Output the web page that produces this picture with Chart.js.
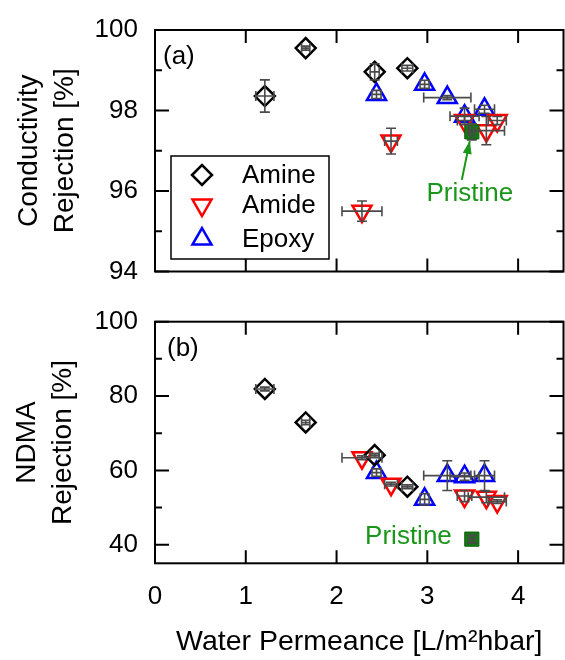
<!DOCTYPE html>
<html>
<head>
<meta charset="utf-8">
<script src="https://cdn.jsdelivr.net/npm/chart.js@4.4.1/dist/chart.umd.min.js"></script>
<style>
  html, body { margin: 0; padding: 0; background: #fff; overflow: hidden; }
  #wrap { position: relative; width: 565px; height: 660px; overflow: hidden; }
  canvas { position: absolute; left: 0; display: block; }
  #condChart { top: 0; }
  #ndmaChart { top: 300px; }
</style>
</head>
<body>
<div id="wrap">
  <canvas id="condChart" width="565" height="300"></canvas>
  <canvas id="ndmaChart" width="565" height="360"></canvas>
</div>
<script>
// Water permeance (shared by both panels) with error
const amineX = [1.21, 1.66, 2.42, 2.78];
const amineXErr = [0.10, 0.045, 0.05, 0.06];
const amideX = [2.28, 2.60, 3.41, 3.65, 3.77];
const amideXErr = [0.22, 0.07, 0.08, 0.20, 0.10];
const epoxyX = [2.44, 2.97, 3.22, 3.41, 3.63];
const epoxyXErr = [0.05, 0.05, 0.26, 0.16, 0.11];
const pristineX = [3.49];
const pristineXErr = [0.03];

// (a) Conductivity rejection [%]
const amineCond = [98.36, 99.55, 98.96, 99.05];
const amineCondErr = [0.40, 0.05, 0.20, 0.07];
const amideCond = [95.50, 97.24, 97.75, 97.50, 97.75];
const amideCondErr = [0.25, 0.32, 0.10, 0.35, 0.10];
const epoxyCond = [98.40, 98.65, 98.32, 97.86, 98.03];
const epoxyCondErr = [0.10, 0.10, 0.05, 0.20, 0.10];
const pristineCond = [97.47];
const pristineCondErr = [0.20];

// (b) NDMA rejection [%]
const amineNdma = [81.9, 72.9, 64.1, 55.6];
const amineNdmaErr = [0.5, 0.6, 0.5, 0.5];
const amideNdma = [63.4, 56.3, 53.1, 52.8, 51.6];
const amideNdmaErr = [0.5, 0.5, 1.5, 1.5, 0.5];
const epoxyNdma = [59.4, 52.2, 58.6, 58.3, 58.6];
const epoxyNdmaErr = [1.0, 1.5, 4.0, 1.0, 4.0];
const pristineNdma = [41.5];
const pristineNdmaErr = [1.0];

// Ticks
const xTickValues = [0, 1, 2, 3, 4];
const condTickValues = [94, 96, 98, 100];
const condMinorTicks = [95, 97, 99];
const ndmaTickValues = [40, 60, 80, 100];
const ndmaMinorTicks = [50, 70, 90];

const FONT = "'Liberation Sans', Arial, Helvetica, sans-serif";
const GREEN_TEXT = '#1a961a';

//Build scatter points from two arrays
function toPoints(xs, ys) {
  return xs.map((v, i) => ({ x: v, y: ys[i] }));
}

function makeDatasets(amineY, amineYErr, amideY, amideYErr, epoxyY, epoxyYErr, priY, priYErr) {
  const common = { showLine: false, pointBorderWidth: 2.5, pointBackgroundColor: 'rgba(0,0,0,0)' };
  return [
    { ...common, label: 'Pristine', order: 0, data: toPoints(pristineX, priY),
      errX: pristineXErr, errY: priYErr,
      pointStyle: 'rect', pointRadius: 10, pointBorderWidth: 1,
      pointBackgroundColor: '#137a13', pointBorderColor: '#0b5e0b' },
    { ...common, label: 'Amine', order: 1, data: toPoints(amineX, amineY),
      errX: amineXErr, errY: amineYErr,
      pointStyle: 'rectRot', pointRadius: 10, pointBorderColor: '#000' },
    { ...common, label: 'Amide', order: 2, data: toPoints(amideX, amideY),
      errX: amideXErr, errY: amideYErr,
      pointStyle: 'triangle', pointRotation: 180, pointRadius: 11, pointBorderColor: '#ff0000' },
    { ...common, label: 'Epoxy', order: 3, data: toPoints(epoxyX, epoxyY),
      errX: epoxyXErr, errY: epoxyYErr,
      pointStyle: 'triangle', pointRadius: 11, pointBorderColor: '#0000ff' }
  ];
}

//Frame with inward ticks
function framePlugin(major, minor) {
  return {
    id: 'frame',
    afterDraw(chart) {
      const { ctx, chartArea: a, scales: { x, y } } = chart;
      ctx.save();
      ctx.strokeStyle = '#000';
      ctx.lineWidth = 2;
      ctx.strokeRect(a.left, a.top, a.right - a.left, a.bottom - a.top);
      ctx.beginPath();
      xTickValues.forEach(v => {
        const px = x.getPixelForValue(v);
        ctx.moveTo(px, a.top); ctx.lineTo(px, a.top + 13);
        ctx.moveTo(px, a.bottom); ctx.lineTo(px, a.bottom - 13);
      });
      major.forEach(v => {
        const py = y.getPixelForValue(v);
        ctx.moveTo(a.left, py); ctx.lineTo(a.left + 14, py);
        ctx.moveTo(a.right, py); ctx.lineTo(a.right - 14, py);
      });
      minor.forEach(v => {
        const py = y.getPixelForValue(v);
        ctx.moveTo(a.left, py); ctx.lineTo(a.left + 7, py);
        ctx.moveTo(a.right, py); ctx.lineTo(a.right - 7, py);
      });
      ctx.stroke();
      ctx.restore();
    }
  };
}

//Error bars from dataset errX / errY
const errorBarPlugin = {
  id: 'errorBars',
  afterDatasetsDraw(chart) {
    const { ctx, scales: { x, y } } = chart;
    const cap = 5;
    ctx.save();
    ctx.strokeStyle = '#4a4a4a';
    ctx.lineWidth = 1.6;
    chart.data.datasets.forEach(ds => {
      ds.data.forEach((p, i) => {
        const cx = x.getPixelForValue(p.x);
        const cy = y.getPixelForValue(p.y);
        const ex = ds.errX ? ds.errX[i] : 0;
        const ey = ds.errY ? ds.errY[i] : 0;
        ctx.beginPath();
        if (ex > 0) {
          const x1 = x.getPixelForValue(p.x - ex);
          const x2 = x.getPixelForValue(p.x + ex);
          ctx.moveTo(x1, cy); ctx.lineTo(x2, cy);
          ctx.moveTo(x1, cy - cap); ctx.lineTo(x1, cy + cap);
          ctx.moveTo(x2, cy - cap); ctx.lineTo(x2, cy + cap);
        }
        if (ey > 0) {
          const y1 = y.getPixelForValue(p.y - ey);
          const y2 = y.getPixelForValue(p.y + ey);
          ctx.moveTo(cx, y1); ctx.lineTo(cx, y2);
          ctx.moveTo(cx - cap, y1); ctx.lineTo(cx + cap, y1);
          ctx.moveTo(cx - cap, y2); ctx.lineTo(cx + cap, y2);
        }
        ctx.stroke();
      });
    });
    ctx.restore();
  }
};

//Panel letter
function panelLabel(text, dx, dy) {
  return {
    id: 'panelLabel',
    afterDraw(chart) {
      const { ctx, chartArea: a } = chart;
      ctx.save();
      ctx.font = '26px ' + FONT;
      ctx.fillStyle = '#000';
      ctx.textAlign = 'left';
      ctx.textBaseline = 'middle';
      ctx.fillText(text, a.left + dx, a.top + dy);
      ctx.restore();
    }
  };
}

//Legend box inside panel (a)
const legendPlugin = {
  id: 'insideLegend',
  afterDraw(chart) {
    const { ctx } = chart;
    const box = { left: 171, top: 156, w: 158, h: 103 };
    ctx.save();
    ctx.fillStyle = '#fff';
    ctx.fillRect(box.left, box.top, box.w, box.h);
    ctx.strokeStyle = '#000';
    ctx.lineWidth = 1.5;
    ctx.strokeRect(box.left, box.top, box.w, box.h);
    const rows = [175, 205, 239];
    chart.data.datasets.slice(1).forEach((ds, i) => {
      ctx.strokeStyle = ds.pointBorderColor;
      ctx.fillStyle = 'rgba(0,0,0,0)';
      ctx.lineWidth = 2.5;
      Chart.helpers.drawPoint(ctx, {
        pointStyle: ds.pointStyle, radius: ds.pointRadius,
        rotation: ds.pointRotation || 0, borderWidth: 2.5
      }, 202, rows[i]);
      ctx.fillStyle = '#000';
      ctx.font = '26px ' + FONT;
      ctx.textAlign = 'left';
      ctx.textBaseline = 'middle';
      ctx.fillText(ds.label, 242, rows[i] + 1);
    });
    ctx.restore();
  }
};

//"Pristine" annotations
const pristineArrowPlugin = {
  id: 'pristineArrow',
  afterDraw(chart) {
    const { ctx, scales: { x, y } } = chart;
    const px = x.getPixelForValue(pristineX[0]);
    const py = y.getPixelForValue(pristineCond[0]);
    const tip = { x: px - 2, y: py + 9 };
    const tail = { x: px - 10, y: py + 48 };
    ctx.save();
    ctx.strokeStyle = GREEN_TEXT;
    ctx.fillStyle = GREEN_TEXT;
    ctx.lineWidth = 2;
    ctx.beginPath();
    ctx.moveTo(tail.x, tail.y); ctx.lineTo(tip.x, tip.y);
    ctx.stroke();
    const ang = Math.atan2(tip.y - tail.y, tip.x - tail.x);
    const len = 13, half = 4.5;
    const bx = tip.x - Math.cos(ang) * len, by = tip.y - Math.sin(ang) * len;
    ctx.beginPath();
    ctx.moveTo(tip.x, tip.y);
    ctx.lineTo(bx - Math.sin(ang) * half, by + Math.cos(ang) * half);
    ctx.lineTo(bx + Math.sin(ang) * half, by - Math.cos(ang) * half);
    ctx.closePath();
    ctx.fill();
    ctx.font = '26px ' + FONT;
    ctx.textAlign = 'center';
    ctx.textBaseline = 'middle';
    ctx.fillText('Pristine', px - 2, py + 62);
    ctx.restore();
  }
};

const pristineTextPlugin = {
  id: 'pristineText',
  afterDraw(chart) {
    const { ctx, scales: { x, y } } = chart;
    const px = x.getPixelForValue(pristineX[0]);
    const py = y.getPixelForValue(pristineNdma[0]);
    ctx.save();
    ctx.fillStyle = GREEN_TEXT;
    ctx.font = '26px ' + FONT;
    ctx.textAlign = 'right';
    ctx.textBaseline = 'middle';
    ctx.fillText('Pristine', px - 20, py - 2);
    ctx.restore();
  }
};

//Scale size is fixed so both panels share the same plot area
function fixSize(s, w, h) {
  if (w !== null) s.width = w;
  if (h !== null) s.height = h;
  s.paddingLeft = 0; s.paddingRight = 0; s.paddingTop = 0; s.paddingBottom = 0;
}

function yScale(min, max, ticksArr, title, titlePad) {
  return {
    type: 'linear', min: min, max: max,
    afterBuildTicks: s => { s.ticks = ticksArr.map(v => ({ value: v })); },
    afterFit: s => fixSize(s, 155, null),
    grid: { display: false, drawTicks: false },
    border: { display: false },
    ticks: { color: '#000', padding: 17, font: { family: FONT, size: 26 } },
    title: {
      display: true, text: title, color: '#000',
      padding: { top: titlePad, bottom: 0 },
      font: { family: FONT, size: 28, lineHeight: 1.3 }
    }
  };
}

function baseOptions(padding) {
  return {
    responsive: false,
    animation: false,
    devicePixelRatio: 1,
    layout: { padding: padding, autoPadding: false },
    plugins: { legend: { display: false }, tooltip: { enabled: false } }
  };
}

function createCondChart() {
  const opts = baseOptions({ left: 0, top: 30, right: 1.5, bottom: 28.5 });
  opts.scales = {
    x: { type: 'linear', min: 0, max: 4.5, display: false },
    y: yScale(94, 100, condTickValues, ['Conductivity', 'Rejection [%]'], 10.8)
  };
  return new Chart(document.getElementById('condChart').getContext('2d'), {
    type: 'scatter',
    data: { datasets: makeDatasets(amineCond, amineCondErr, amideCond, amideCondErr,
      epoxyCond, epoxyCondErr, pristineCond, pristineCondErr) },
    options: opts,
    plugins: [errorBarPlugin, framePlugin(condTickValues, condMinorTicks),
      panelLabel('(a)', 8, 27), legendPlugin, pristineArrowPlugin]
  });
}

function createNdmaChart() {
  const opts = baseOptions({ left: 0, top: 21.7, right: 1.5, bottom: 0 });
  opts.scales = {
    x: {
      type: 'linear', min: 0, max: 4.5,
      afterBuildTicks: s => { s.ticks = xTickValues.map(v => ({ value: v })); },
      afterFit: s => fixSize(s, null, 96.7),
      grid: { display: false, drawTicks: false },
      border: { display: false },
      ticks: { color: '#000', padding: 18, maxRotation: 0, font: { family: FONT, size: 26 } },
      title: {
        display: true, text: 'Water Permeance [L/m\u00B2hbar]', color: '#000',
        padding: { top: 0, bottom: 0.3 },
        font: { family: FONT, size: 28.5 }
      }
    },
    y: yScale(35, 100, ndmaTickValues, ['NDMA', 'Rejection [%]'], 9)
  };
  return new Chart(document.getElementById('ndmaChart').getContext('2d'), {
    type: 'scatter',
    data: { datasets: makeDatasets(amineNdma, amineNdmaErr, amideNdma, amideNdmaErr,
      epoxyNdma, epoxyNdmaErr, pristineNdma, pristineNdmaErr) },
    options: opts,
    plugins: [errorBarPlugin, framePlugin(ndmaTickValues, ndmaMinorTicks),
      panelLabel('(b)', 12, 27), pristineTextPlugin]
  });
}

document.addEventListener('DOMContentLoaded', () => {
  createCondChart();
  createNdmaChart();
});
</script>
</body>
</html>
